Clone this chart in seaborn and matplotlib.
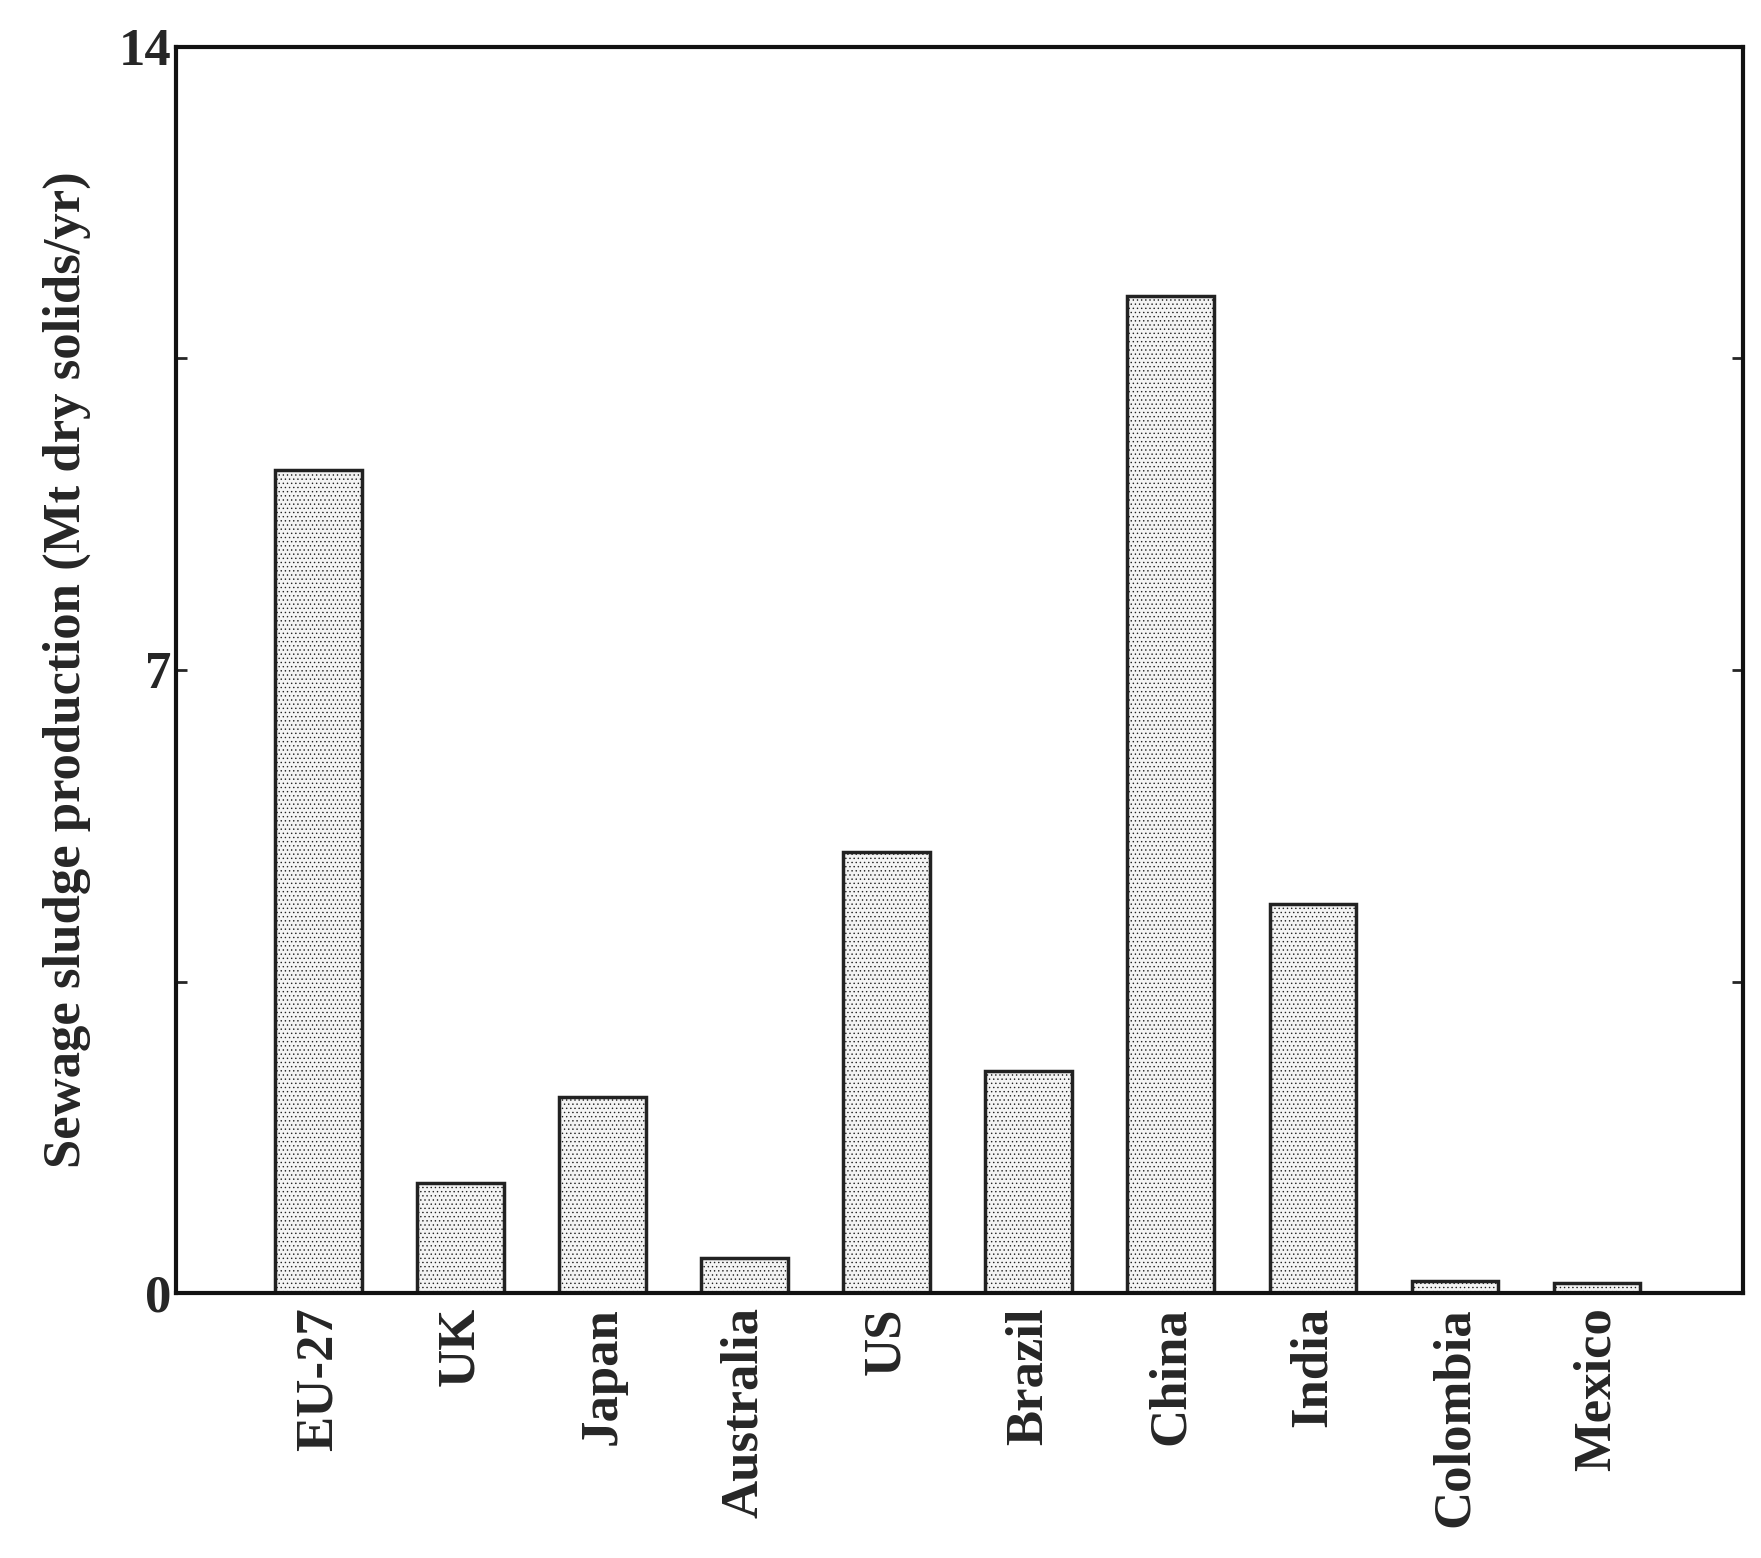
import matplotlib
matplotlib.use("Agg")
import matplotlib.pyplot as plt
import seaborn as sns
import pandas as pd

countries = ["EU-27", "UK", "Japan", "Australia", "US", "Brazil", "China", "India", "Colombia", "Mexico"]
production = [9.25, 1.24, 2.2, 0.4, 4.96, 2.49, 11.2, 4.37, 0.14, 0.11]

df = pd.DataFrame({"country": countries, "value": production})

sns.set_style("white")
plt.rcParams["font.family"] = ["Liberation Serif", "DejaVu Serif"]
plt.rcParams["font.weight"] = "bold"
plt.rcParams["hatch.color"] = "#c8c8c8"
plt.rcParams["hatch.linewidth"] = 0.5

fig = plt.figure(figsize=(17.61, 15.58), dpi=100)
ax = fig.add_axes([0.10, 0.17, 0.89, 0.80])

sns.barplot(data=df, x="country", y="value", color="#f4f4f4", width=0.61,
            edgecolor="#222222", linewidth=2.5, hatch="....", ax=ax)

ax.set_xlim(-1, 10.03)
ax.set_ylim(0, 14)
ax.set_yticks([0, 7, 14])
ax.set_yticks([3.5, 10.5], minor=True)
ax.tick_params(axis="y", which="both", direction="in", left=True, right=True,
               length=8, width=2, labelsize=38)
ax.tick_params(axis="x", length=0, labelsize=38, rotation=90, pad=10)
for lab in ax.get_xticklabels() + ax.get_yticklabels():
    lab.set_fontweight("bold")
ax.set_xlabel("")
ax.set_ylabel("Sewage sludge production (Mt dry solids/yr)", fontsize=38,
              fontweight="bold", labelpad=20)
for s in ax.spines.values():
    s.set_linewidth(3)
    s.set_color("#111111")

fig.savefig("out.png", dpi=100)
